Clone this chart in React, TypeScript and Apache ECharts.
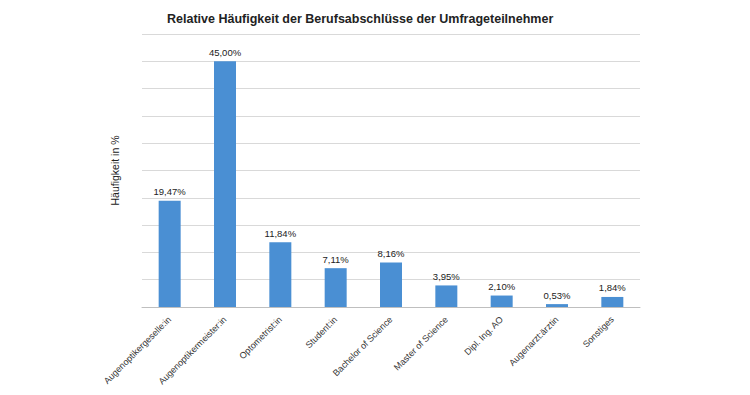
import React, { useEffect, useRef } from "react";
import * as echarts from "echarts";

const categories = [
  "Augenoptikergeselle:in",
  "Augenoptikermeister:in",
  "Optometrist:in",
  "Student:in",
  "Bachelor of Science",
  "Master of Science",
  "Dipl. Ing. AO",
  "Augenarzt:ärztin",
  "Sonstiges",
];
const values = [19.47, 45.0, 11.84, 7.11, 8.16, 3.95, 2.1, 0.53, 1.84];
const titleText = "Relative Häufigkeit der Berufsabschlüsse der Umfrageteilnehmer";
const yAxisName = "Häufigkeit in %";

const FONT = "'Liberation Sans', Arial, sans-serif";

export default function App() {
  const ref = useRef<HTMLDivElement>(null);
  useEffect(() => {
    if (!ref.current) return;
    const chart = echarts.init(ref.current, undefined, { renderer: "svg" });
    chart.setOption({
      animation: false,
      backgroundColor: "#ffffff",
      textStyle: { fontFamily: FONT },
      title: {
        text: titleText,
        left: 162,
        top: 7,
        textStyle: { fontFamily: FONT, fontSize: 12.5, fontWeight: "bold", color: "#222" },
      },
      grid: { left: 142, right: 110, top: 34, bottom: 88, containLabel: false },
      xAxis: {
        type: "category",
        data: categories,
        axisLine: { lineStyle: { color: "#bfbfbf" } },
        axisTick: { show: false },
        axisLabel: {
          interval: 0,
          rotate: 45,
          margin: 11,
          fontSize: 9,
          color: "#333",
          fontFamily: FONT,
        },
      },
      yAxis: {
        type: "value",
        min: 0,
        max: 50,
        interval: 5,
        name: yAxisName,
        nameLocation: "middle",
        nameGap: 22,
        nameTextStyle: { fontSize: 10.5, color: "#222", fontFamily: FONT },
        axisLine: { show: false },
        axisTick: { show: false },
        axisLabel: { show: false },
        splitLine: { lineStyle: { color: "#d9d9d9", width: 1 } },
      },
      series: [
        {
          type: "bar",
          data: values,
          barWidth: 22,
          itemStyle: { color: "#4a8fd3" },
          label: {
            show: true,
            position: "top",
            distance: 4,
            fontSize: 9.5,
            color: "#222",
            fontFamily: FONT,
            formatter: (p: any) => p.value.toFixed(2).replace(".", ",") + "%",
          },
        },
      ],
    });
    return () => chart.dispose();
  }, []);
  return (
    <div
      ref={ref}
      style={{ position: "fixed", left: 0, top: 0, width: 750, height: 395, background: "#fff" }}
    />
  );
}
